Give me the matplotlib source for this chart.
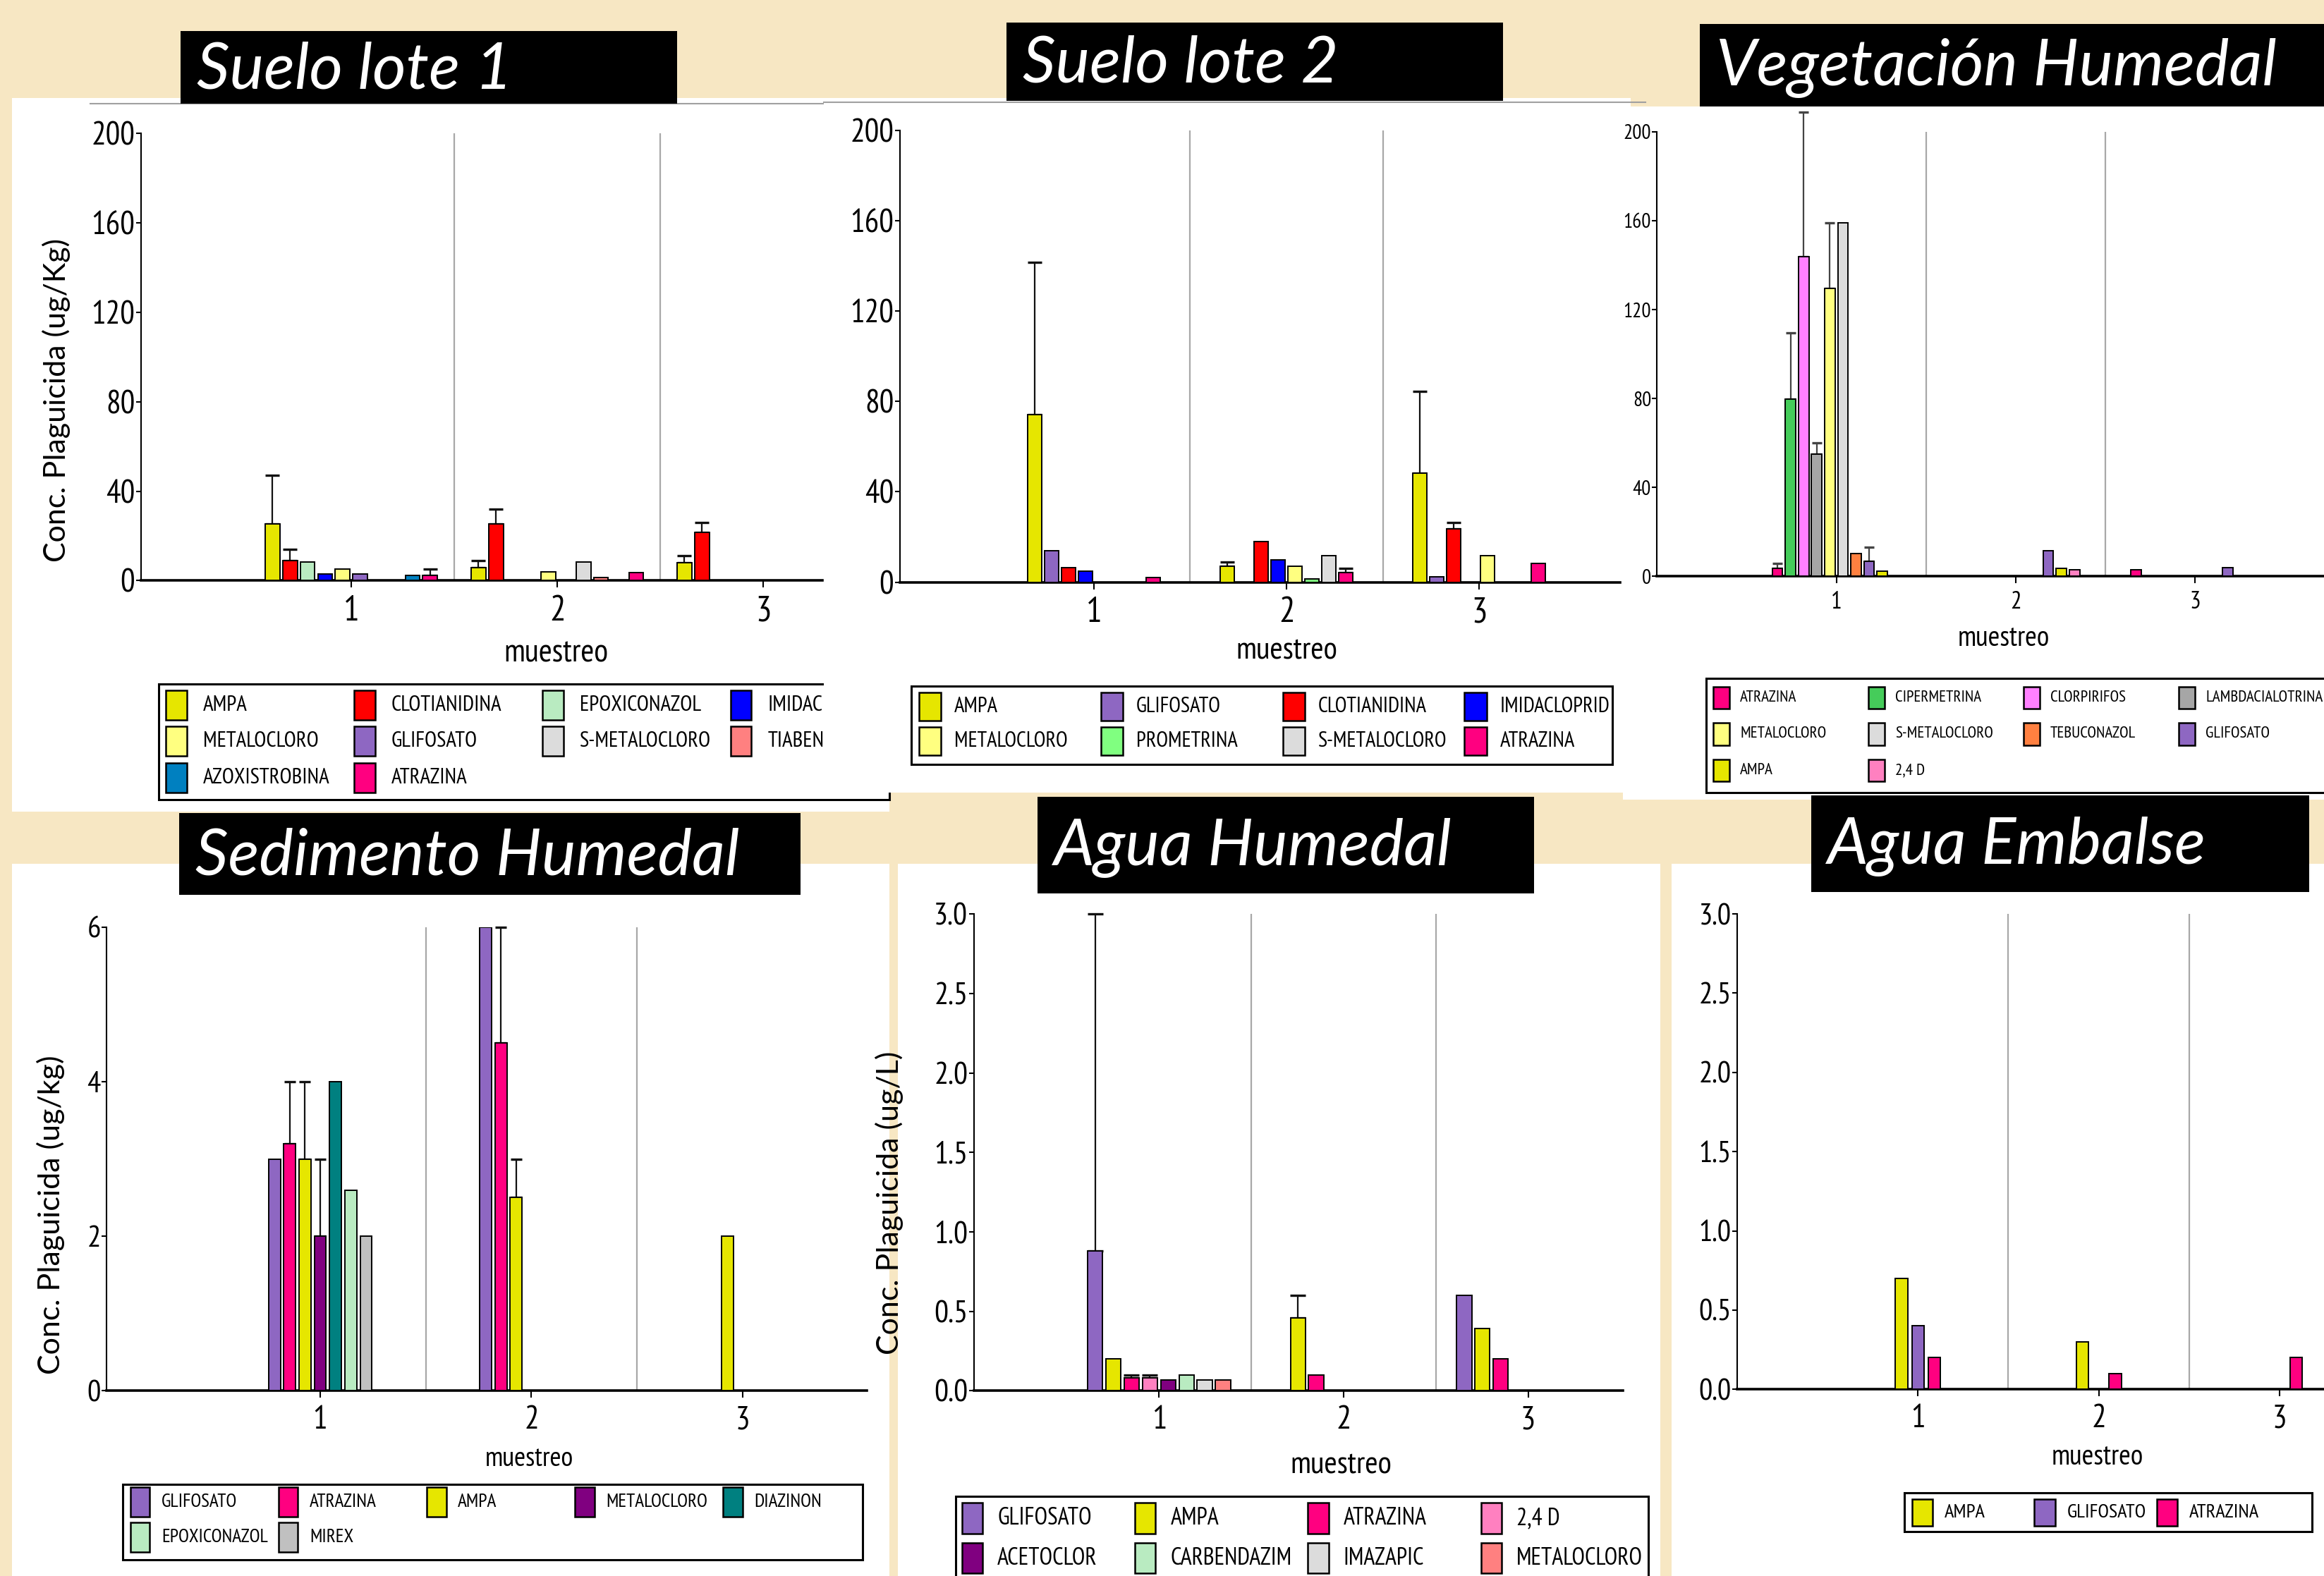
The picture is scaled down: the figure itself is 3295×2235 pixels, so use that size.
import os

import numpy as np
import matplotlib
matplotlib.use("Agg")
from matplotlib import pyplot as plt
from matplotlib import font_manager
from matplotlib.font_manager import FontProperties
from matplotlib.patches import Rectangle
from matplotlib.lines import Line2D
from matplotlib.ticker import FormatStrFormatter

# ---------------- data (one row per pesticide, one value per muestreo 1..3) ----------------
muestreos = np.array([1, 2, 3])

# Suelo lote 1 (ug/Kg)
s1_names = ["AMPA", "CLOTIANIDINA", "EPOXICONAZOL", "IMIDACLOPRID", "METALOCLORO",
            "GLIFOSATO", "S-METALOCLORO", "TIABENDAZOL", "AZOXISTROBINA", "ATRAZINA"]
s1_colors = ["#E6E600", "#FF0000", "#B9EBC1", "#0000FF", "#FFFF80",
             "#8E67C2", "#DCDCDC", "#FF8080", "#0080C0", "#FF0080"]
s1_mean = [[25.3, 5.9, 8.1], [8.9, 25.3, 21.6], [8.2, 0, 0], [2.9, 0, 0], [5.3, 3.8, 0],
           [2.9, 0, 0], [0, 8.2, 0], [0, 1.5, 0], [2.2, 0, 0], [2.2, 3.5, 0]]
s1_err = [[21.7, 3.0, 3.0], [5.2, 6.6, 4.4], [0, 0, 0], [0, 0, 0], [0, 0, 0],
          [0, 0, 0], [0, 0, 0], [0, 0, 0], [0, 0, 0], [2.9, 0, 0]]

# Suelo lote 2 (ug/Kg)
s2_names = ["AMPA", "GLIFOSATO", "CLOTIANIDINA", "IMIDACLOPRID",
            "METALOCLORO", "PROMETRINA", "S-METALOCLORO", "ATRAZINA"]
s2_colors = ["#E6E600", "#8E67C2", "#FF0000", "#0000FF",
             "#FFFF80", "#80FF80", "#DCDCDC", "#FF0080"]
s2_mean = [[74.0, 7.0, 48.3], [14.0, 0, 2.2], [6.3, 18.0, 23.5], [5.0, 9.8, 0],
           [0, 7.0, 11.8], [0, 1.5, 0], [0, 11.8, 0], [2.0, 4.2, 8.4]]
s2_err = [[67.6, 2.0, 36.3], [0, 0, 0], [0, 0, 2.8], [0, 0, 0],
          [0, 0, 0], [0, 0, 0], [0, 0, 0], [0, 1.9, 0]]

# Vegetacion humedal (ug/Kg)
veg_names = ["ATRAZINA", "CIPERMETRINA", "CLORPIRIFOS", "LAMBDACIALOTRINA", "METALOCLORO",
             "S-METALOCLORO", "TEBUCONAZOL", "GLIFOSATO", "AMPA", "2,4 D"]
veg_colors = ["#FF0080", "#45CC5A", "#FF80FF", "#A6A6A6", "#FFFF80",
              "#DCDCDC", "#FF8040", "#8E67C2", "#E6E600", "#FF80C0"]
veg_mean = [[3.6, 0, 2.9], [79.8, 0, 0], [143.8, 0, 0], [54.9, 0, 0], [129.4, 0, 0],
            [159.2, 0, 0], [10.2, 0, 0], [6.6, 11.6, 4.0], [2.2, 3.6, 0], [0, 2.9, 0]]
veg_err = [[2.2, 0, 0], [29.8, 0, 0], [65.2, 0, 0], [5.1, 0, 0], [29.8, 0, 0],
           [0, 0, 0], [0, 0, 0], [6.5, 0, 0], [0, 0, 0], [0, 0, 0]]

# Sedimento humedal (ug/kg)
sed_names = ["GLIFOSATO", "ATRAZINA", "AMPA", "METALOCLORO", "DIAZINON", "EPOXICONAZOL", "MIREX"]
sed_colors = ["#8E67C2", "#FF0080", "#E6E600", "#800080", "#008080", "#B9EBC1", "#C0C0C0"]
sed_mean = [[3.0, 6.0, 0], [3.2, 4.5, 0], [3.0, 2.5, 2.0], [2.0, 0, 0],
            [4.0, 0, 0], [2.6, 0, 0], [2.0, 0, 0]]
sed_err = [[0, 0, 0], [0.8, 1.5, 0], [1.0, 0.5, 0], [1.0, 0, 0],
           [0, 0, 0], [0, 0, 0], [0, 0, 0]]

# Agua humedal (ug/L)
ah_names = ["GLIFOSATO", "AMPA", "ATRAZINA", "2,4 D",
            "ACETOCLOR", "CARBENDAZIM", "IMAZAPIC", "METALOCLORO"]
ah_colors = ["#8E67C2", "#E6E600", "#FF0080", "#FF80C0",
             "#800080", "#B9EBC1", "#DCDCDC", "#FF8080"]
ah_mean = [[0.88, 0, 0.60], [0.20, 0.46, 0.39], [0.08, 0.10, 0.20], [0.08, 0, 0],
           [0.07, 0, 0], [0.10, 0, 0], [0.07, 0, 0], [0.07, 0, 0]]
ah_err = [[2.12, 0, 0], [0, 0.14, 0], [0.02, 0, 0], [0.02, 0, 0],
          [0, 0, 0], [0, 0, 0], [0, 0, 0], [0, 0, 0]]

# Agua embalse (ug/L)
ae_names = ["AMPA", "GLIFOSATO", "ATRAZINA"]
ae_colors = ["#E6E600", "#8E67C2", "#FF0080"]
ae_mean = [[0.70, 0.30, 0], [0.40, 0, 0], [0.20, 0.10, 0.20]]
ae_err = [[0, 0, 0], [0, 0, 0], [0, 0, 0]]

# ---------------- fonts ----------------
available = {f.name for f in font_manager.fontManager.ttflist}


def pick(*names):
    for n in names:
        if n in available:
            return n
    return "DejaVu Sans"


def find_narrow():
    # a real narrow sans if the system has one, else None
    for f in font_manager.fontManager.ttflist:
        base = os.path.basename(f.fname).lower()
        if "narrow" in base and "sans" in base and f.style == "normal" and f.weight in (400, "normal", "regular"):
            return f.fname
    return None


NARROW_FILE = find_narrow()
BASE = pick("Liberation Sans", "Arial", "DejaVu Sans")
# without a narrow face, shrink sizes so the text keeps the reference widths
SQUEEZE = 1.0 if NARROW_FILE else 0.72
LABEL_FONT = pick("Lato", "Open Sans", "Liberation Sans")
TITLE_FONT = pick("Lato", "Open Sans", "DejaVu Sans")
plt.rcParams["font.family"] = [BASE, "DejaVu Sans"]


def nfont(size):
    if NARROW_FILE:
        return FontProperties(fname=NARROW_FILE, size=size)
    return FontProperties(family=BASE, size=size * SQUEEZE)


# layout is measured on a 1568 x 1064 grid of the reference picture
GW, GH = 1568.0, 1064.0
BG = "#F7E7C3"

fig = plt.figure(figsize=(32.95, 22.35), dpi=100)
fig.patch.set_facecolor(BG)


def fx(x):
    return x / GW


def fy(y):
    return 1 - y / GH


def box(x0, y0, x1, y1, face, z, edge="none", lw=0):
    r = Rectangle((fx(x0), fy(y1)), (x1 - x0) / GW, (y1 - y0) / GH, transform=fig.transFigure,
                  facecolor=face, edgecolor=edge, linewidth=lw, zorder=z)
    fig.add_artist(r)


def draw_panel(sp, names, colors, mean, err):
    z = sp["z"]
    box(*sp["white"], "white", z)
    for (x0, x1, yy) in sp.get("rules", []):
        fig.add_artist(Line2D([fx(x0), fx(x1)], [fy(yy), fy(yy)], transform=fig.transFigure,
                              color="#A0A0A0", lw=1.5, zorder=z + 0.5))
    L, R, y0, yt = sp["axes"]
    ax = fig.add_axes([fx(L), fy(y0), (R - L) / GW, (y0 - yt) / GH], zorder=z + 1)
    ax.set_facecolor("white")
    n = len(names)
    slot = sp["slot"]
    for i in range(n):
        pos = muestreos + (i - (n - 1) / 2) * slot
        v = np.asarray(mean[i], float)
        e = np.asarray(err[i], float)
        m = v > 0
        if m.any():
            ax.bar(pos[m], v[m], width=slot * sp["frac"], color=colors[i],
                   edgecolor="black", linewidth=1.4, zorder=3)
        me = e > 0
        if me.any():
            eb = ax.errorbar(pos[me], v[me], yerr=[np.zeros(me.sum()), e[me]], fmt="none",
                             ecolor=sp.get("ecolor", "#111111"), elinewidth=1.6,
                             capsize=sp["cap"], capthick=2.4, zorder=2)
            for art in eb.get_children():
                art.set_clip_on(False)
    ax.set_xlim(*sp["xlim"])
    ax.set_ylim(0, sp["ytop"])
    ax.set_yticks(sp["yticks"])
    if sp.get("fmt"):
        ax.yaxis.set_major_formatter(FormatStrFormatter(sp["fmt"]))
    ax.set_xticks(muestreos)
    for s in (1.5, 2.5):
        ax.axvline(s, color="#A8A8A8", lw=1.6, zorder=1)
    for side in ("top", "right"):
        ax.spines[side].set_visible(False)
    ax.spines["left"].set_linewidth(1.5)
    ax.spines["bottom"].set_linewidth(2.6)
    ax.tick_params(axis="y", length=5, width=1.5, pad=1)
    ax.tick_params(axis="x", length=7, width=1.5, pad=8)
    for lbl in ax.get_yticklabels():
        lbl.set_fontproperties(nfont(sp["tfs"]))
    for lbl in ax.get_xticklabels():
        lbl.set_fontproperties(nfont(sp["xfs"]))
    mx, my, mfs = sp["xlabel"]
    fig.text(fx(mx), fy(my), "muestreo", ha="center", va="center",
             fontproperties=nfont(mfs), zorder=z + 2)
    if "ylabel" in sp:
        lx, ly, txt, lfs = sp["ylabel"]
        fig.text(fx(lx), fy(ly), txt, rotation=90, ha="center", va="center",
                 fontsize=lfs, family=LABEL_FONT, zorder=z + 2)
    # legend with equal columns, filled row by row
    lg = sp["legend"]
    box(*lg["box"], "white", z + 2, edge="black", lw=2.2)
    sw, sh = lg["swatch"]
    for i, (name, col) in enumerate(zip(names, colors)):
        r, c = divmod(i, lg["ncol"])
        x = lg["x0"] + c * lg["dx"]
        y = lg["y0"] + r * lg["dy"]
        box(x, y - sh / 2, x + sw, y + sh / 2, col, z + 2.2, edge="black", lw=1.8)
        fig.text(fx(x + lg["toff"]), fy(y), name, ha="left", va="center",
                 fontproperties=nfont(lg["fs"]), zorder=z + 2.2)
    # black title tag
    tx0, ty0, tx1, ty1 = sp["tag"]
    box(tx0, ty0, tx1, ty1, "black", 100)
    fig.text(fx(tx0 + 11), fy((ty0 + ty1) / 2 + 2), sp["title"], ha="left", va="center",
             color="white", fontsize=66, family=TITLE_FONT, style="italic",
             weight="normal", zorder=101)
    return ax


p1 = dict(z=10, white=(8, 66, 600, 548), rules=[(61, 556, 70)], axes=(95, 555, 392, 90),
          xlim=(-0.022, 3.288), ytop=200, yticks=[0, 40, 80, 120, 160, 200],
          slot=0.085, frac=0.83, cap=7.4, tfs=33, xfs=36, xlabel=(375, 441, 33),
          ylabel=(38, 270, "Conc. Plaguicida (ug/Kg)", 31),
          legend=dict(box=(107, 462, 600, 540), ncol=4, x0=112, dx=127, y0=476, dy=24.5,
                      swatch=(14, 20), toff=25, fs=22.2),
          tag=(122, 21, 457, 70), title="Suelo lote 1")

p2 = dict(z=20, white=(556, 66, 1100, 535), rules=[(556, 1110, 69)], axes=(607, 1093, 393, 88),
          xlim=(-0.008, 3.731), ytop=200, yticks=[0, 40, 80, 120, 160, 200],
          slot=0.088, frac=0.83, cap=7.2, tfs=33, xfs=36, xlabel=(868, 439, 32),
          legend=dict(box=(615, 463, 1088, 516), ncol=4, x0=620, dx=122.7, y0=477, dy=23.5,
                      swatch=(15, 19), toff=24, fs=22),
          tag=(679, 15, 1014, 68), title="Suelo lote 2")

p3 = dict(z=30, white=(1095, 72, 1568, 540), axes=(1118, 1568, 389, 89),
          xlim=(0.0, 3.72), ytop=200, yticks=[0, 40, 80, 120, 160, 200],
          slot=0.073, frac=0.79, cap=5.3, ecolor="#444444", tfs=21, xfs=25,
          xlabel=(1352, 431, 29),
          legend=dict(box=(1151, 458, 1580, 535), ncol=4, x0=1156, dx=104.7, y0=471, dy=24.5,
                      swatch=(11, 15), toff=18, fs=16.6),
          tag=(1147, 16, 1575, 72), title="Vegetación Humedal")

p4 = dict(z=40, white=(8, 583, 600, 1064), axes=(72, 585, 939, 626),
          xlim=(-0.011, 3.589), ytop=6, yticks=[0, 2, 4, 6],
          slot=0.0723, frac=0.78, cap=6.0, tfs=31, xfs=33, xlabel=(357, 985, 28),
          ylabel=(34, 820, "Conc. Plaguicida (ug/kg)", 31),
          legend=dict(box=(83, 1002, 582, 1053), ncol=5, x0=88, dx=100, y0=1014, dy=24,
                      swatch=(13, 20), toff=21, fs=19.6),
          tag=(121, 549, 540, 604), title="Sedimento Humedal")

p5 = dict(z=50, white=(606, 583, 1120, 1064), axes=(657, 1095, 939, 617),
          xlim=(-0.004, 3.514), ytop=3.0, yticks=[0, 0.5, 1.0, 1.5, 2.0, 2.5, 3.0], fmt="%.1f",
          slot=0.099, frac=0.82, cap=7.6, tfs=32, xfs=34, xlabel=(905, 989, 32),
          ylabel=(600, 812, "Conc. Plaguicida (ug/L)", 31),
          legend=dict(box=(645, 1010, 1112, 1075), ncol=4, x0=649, dx=116.7, y0=1025, dy=27,
                      swatch=(14, 20.6), toff=24, fs=24.4),
          tag=(700, 538, 1035, 603), title="Agua Humedal")

p6 = dict(z=60, white=(1128, 583, 1568, 1064), axes=(1172, 1568, 938, 617),
          xlim=(0.0, 3.246), ytop=3.0, yticks=[0, 0.5, 1.0, 1.5, 2.0, 2.5, 3.0], fmt="%.1f",
          slot=0.091, frac=0.74, cap=6.5, tfs=31, xfs=33, xlabel=(1415, 984, 29),
          legend=dict(box=(1285, 1008, 1560, 1034), ncol=3, x0=1290, dx=82.5, y0=1021, dy=24,
                      swatch=(14, 18), toff=22, fs=20.4),
          tag=(1222, 537, 1558, 602), title="Agua Embalse")

draw_panel(p1, s1_names, s1_colors, s1_mean, s1_err)
draw_panel(p2, s2_names, s2_colors, s2_mean, s2_err)
draw_panel(p3, veg_names, veg_colors, veg_mean, veg_err)
draw_panel(p4, sed_names, sed_colors, sed_mean, sed_err)
draw_panel(p5, ah_names, ah_colors, ah_mean, ah_err)
draw_panel(p6, ae_names, ae_colors, ae_mean, ae_err)

fig.savefig("out.png", dpi=100, facecolor=fig.get_facecolor())
